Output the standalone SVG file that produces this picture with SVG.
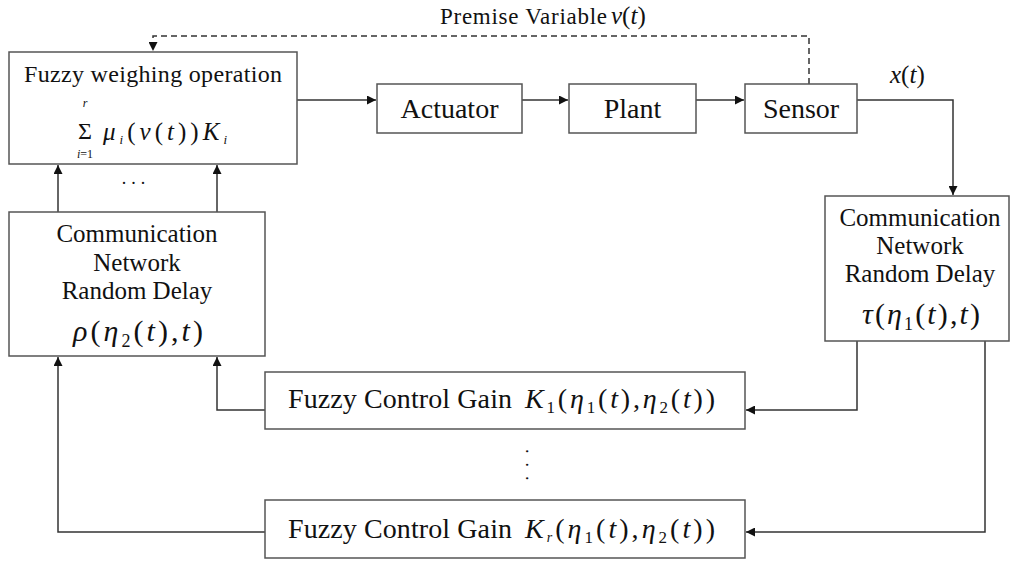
<svg xmlns="http://www.w3.org/2000/svg" width="1011" height="563" viewBox="0 0 1011 563">
<style>
.box{fill:#fff;stroke:#555;stroke-width:1.5}
.t{fill:#111}
.it{font-style:italic}
.ln{fill:none;stroke:#333;stroke-width:1.5}
.dash{stroke-dasharray:6 4}
</style>
<defs>
<marker id="ah" viewBox="0 0 10 10" refX="10" refY="5" markerWidth="9" markerHeight="9" markerUnits="userSpaceOnUse" orient="auto">
<path d="M0,0 L10,5 L0,10 z" fill="#111"/>
</marker>
</defs>
<rect width="1011" height="563" fill="#fff"/>
<g font-family="Liberation Serif, Times New Roman, serif">
<g id="connectors">
<path class="ln dash" d="M809,84 V36 H153 V51" marker-end="url(#ah)"/>
<path class="ln" d="M297,100 H376" marker-end="url(#ah)"/>
<path class="ln" d="M522,100 H568" marker-end="url(#ah)"/>
<path class="ln" d="M696,100 H744" marker-end="url(#ah)"/>
<path class="ln" d="M857,100 H953 V195" marker-end="url(#ah)"/>
<path class="ln" d="M857,341 V410 H746" marker-end="url(#ah)"/>
<path class="ln" d="M985,341 V532 H746" marker-end="url(#ah)"/>
<path class="ln" d="M265,410 H217 V357" marker-end="url(#ah)"/>
<path class="ln" d="M265,532 H58 V357" marker-end="url(#ah)"/>
<path class="ln" d="M58,212 V165" marker-end="url(#ah)"/>
<path class="ln" d="M217,212 V165" marker-end="url(#ah)"/>
<text class="t" x="440" y="24" font-size="23" textLength="167" lengthAdjust="spacing">Premise Variable</text>
<text class="t" x="611" y="24" font-size="25"><tspan class="it">ν</tspan>(<tspan class="it">t</tspan>)</text>
<text class="t" x="890" y="83" font-size="25"><tspan class="it">x</tspan>(<tspan class="it">t</tspan>)</text>
<text class="t" x="136" y="184" font-size="18" text-anchor="middle" letter-spacing="5">...</text>
<text class="t" font-size="18" letter-spacing="9" transform="translate(526,449) rotate(90)">...</text>
</g>

<g id="fuzzy-weighing">
<rect class="box" x="9" y="52" width="288" height="112"/>
<text class="t" x="153" y="82" font-size="24" text-anchor="middle" textLength="258" lengthAdjust="spacing">Fuzzy weighing operation</text>
<text class="t" x="85" y="139" font-size="24" text-anchor="middle">Σ</text>
<text class="t it" x="85" y="107" font-size="12" text-anchor="middle">r</text>
<text class="t" x="85" y="158" font-size="12" text-anchor="middle"><tspan class="it">i</tspan>=1</text>
<text class="t" x="103" y="140" font-size="25" textLength="124" lengthAdjust="spacing"><tspan class="it">μ</tspan><tspan class="it" font-size="13" dy="4">i</tspan><tspan dy="-4">(</tspan><tspan class="it">ν</tspan>(<tspan class="it">t</tspan>))<tspan class="it">K</tspan><tspan class="it" font-size="13" dy="4">i</tspan></text>
</g>

<g id="actuator">
<rect class="box" x="377" y="84" width="145" height="49"/>
<text class="t" x="449.5" y="118" font-size="28" text-anchor="middle">Actuator</text>
</g>

<g id="plant">
<rect class="box" x="569" y="84" width="127" height="49"/>
<text class="t" x="632.5" y="118" font-size="28" text-anchor="middle">Plant</text>
</g>

<g id="sensor">
<rect class="box" x="745" y="84" width="112" height="49"/>
<text class="t" x="801" y="118" font-size="28" text-anchor="middle">Sensor</text>
</g>

<g id="network-left">
<rect class="box" x="9" y="212" width="256" height="144"/>
<text class="t" x="137" y="242" font-size="25" text-anchor="middle">Communication</text>
<text class="t" x="137" y="271" font-size="25" text-anchor="middle">Network</text>
<text class="t" x="137" y="299" font-size="25" text-anchor="middle">Random Delay</text>
<text class="t" x="73" y="341" font-size="30" textLength="130" lengthAdjust="spacing"><tspan class="it">ρ</tspan>(<tspan class="it">η</tspan><tspan font-size="18" dy="6">2</tspan><tspan dy="-6">(</tspan><tspan class="it">t</tspan>),<tspan class="it">t</tspan>)</text>
</g>

<g id="network-right">
<rect class="box" x="825" y="196" width="184" height="145"/>
<text class="t" x="920" y="226" font-size="25" text-anchor="middle">Communication</text>
<text class="t" x="920" y="254" font-size="25" text-anchor="middle">Network</text>
<text class="t" x="920" y="282" font-size="25" text-anchor="middle">Random Delay</text>
<text class="t" x="862" y="324" font-size="30" textLength="118" lengthAdjust="spacing"><tspan class="it">τ</tspan>(<tspan class="it">η</tspan><tspan font-size="18" dy="6">1</tspan><tspan dy="-6">(</tspan><tspan class="it">t</tspan>),<tspan class="it">t</tspan>)</text>
</g>

<g id="gain-1">
<rect class="box" x="265" y="372" width="480" height="57"/>
<text class="t" x="288" y="408" font-size="28" textLength="224" lengthAdjust="spacing">Fuzzy Control Gain</text>
<text class="t" x="525" y="408" font-size="28" textLength="190" lengthAdjust="spacing"><tspan class="it">K</tspan><tspan font-size="17" dy="5">1</tspan><tspan dy="-5">(</tspan><tspan class="it">η</tspan><tspan font-size="17" dy="5">1</tspan><tspan dy="-5">(</tspan><tspan class="it">t</tspan>),<tspan class="it">η</tspan><tspan font-size="17" dy="5">2</tspan><tspan dy="-5">(</tspan><tspan class="it">t</tspan>))</text>
</g>

<g id="gain-r">
<rect class="box" x="265" y="500" width="480" height="58"/>
<text class="t" x="288" y="538" font-size="28" textLength="224" lengthAdjust="spacing">Fuzzy Control Gain</text>
<text class="t" x="525" y="538" font-size="28" textLength="190" lengthAdjust="spacing"><tspan class="it">K</tspan><tspan class="it" font-size="14" dy="4">r</tspan><tspan dy="-4">(</tspan><tspan class="it">η</tspan><tspan font-size="17" dy="5">1</tspan><tspan dy="-5">(</tspan><tspan class="it">t</tspan>),<tspan class="it">η</tspan><tspan font-size="17" dy="5">2</tspan><tspan dy="-5">(</tspan><tspan class="it">t</tspan>))</text>
</g>
</g>
</svg>
